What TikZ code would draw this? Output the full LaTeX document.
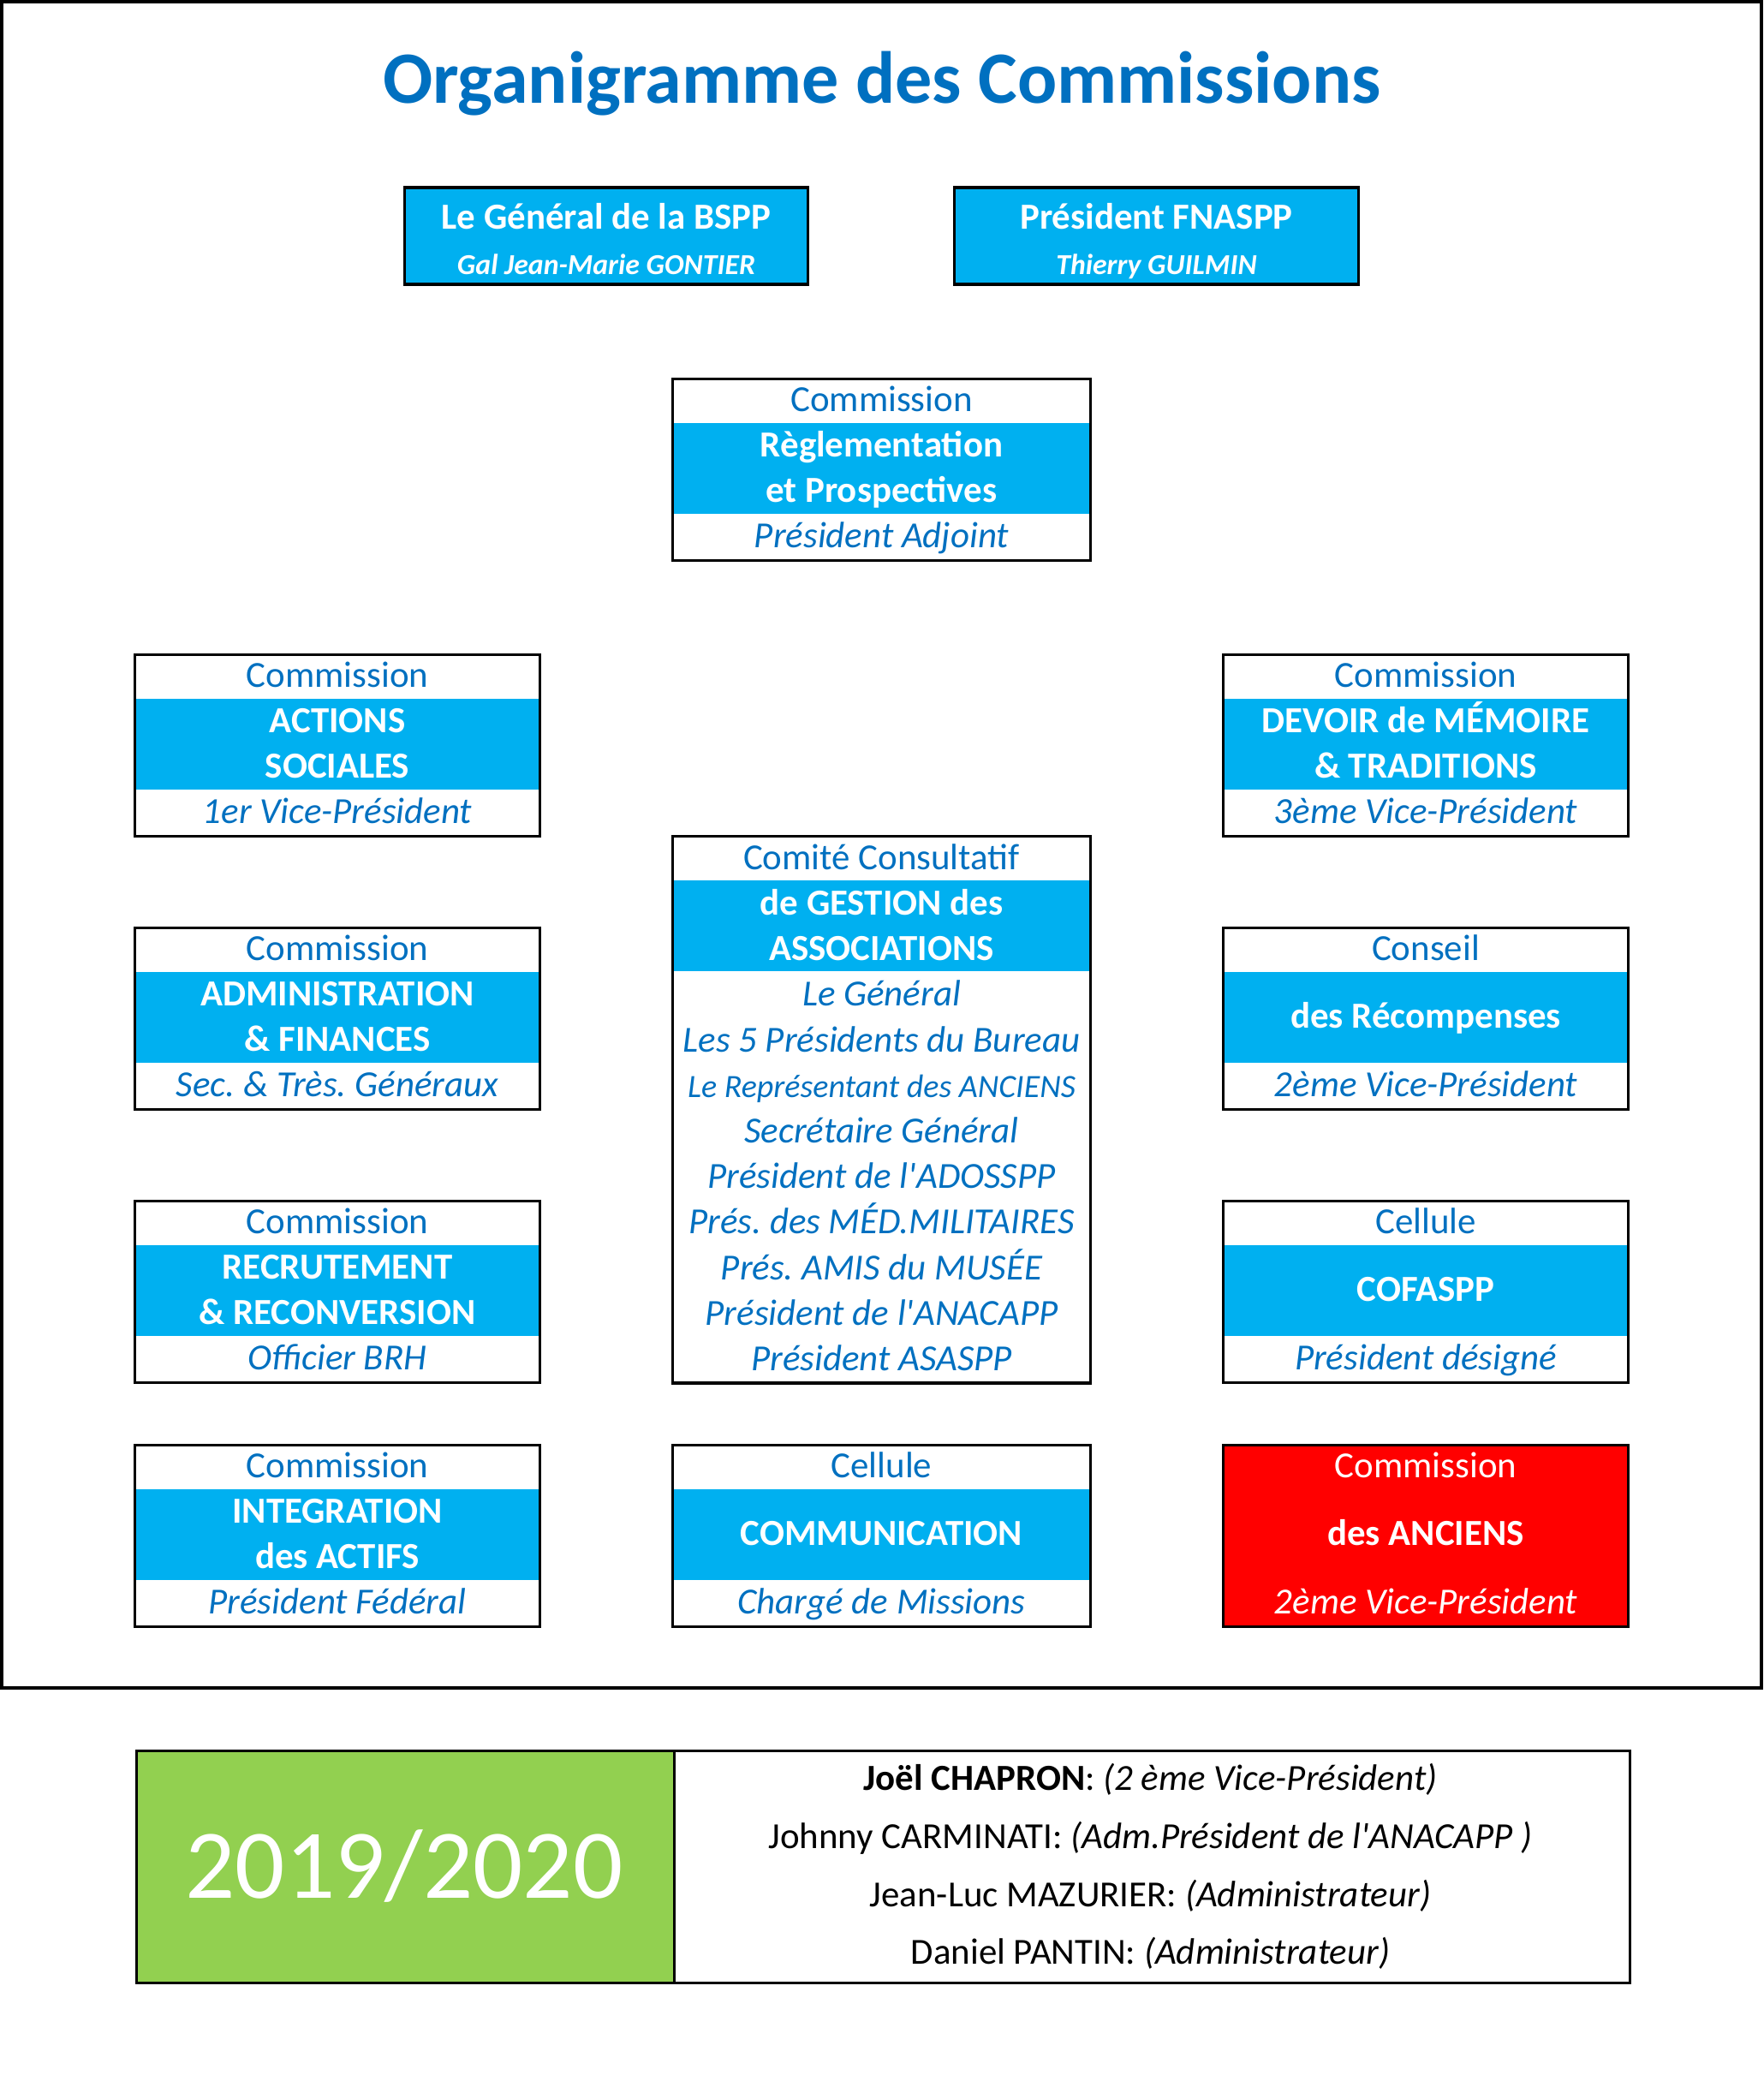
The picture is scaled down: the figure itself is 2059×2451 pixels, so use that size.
\documentclass[tikz,border=0pt]{standalone}
\usepackage{fontspec}
\setmainfont{Carlito}[Ligatures=TeXOff]
\frenchspacing
\definecolor{titleblue}{HTML}{0070C0}
\definecolor{bandblue}{HTML}{00B0F0}
\definecolor{ancred}{HTML}{FF0000}
\definecolor{yeargreen}{HTML}{92D050}
\tikzset{
    orgframe/.style = {draw, rectangle, line width=0.9pt,
        minimum height=2.12cm, inner sep=0pt},
    band/.style = {fill=bandblue, rectangle,
        minimum height=1.06cm, inner sep=0pt},
    txt/.style = {inner sep=0pt, text height=7.9pt, text depth=0pt,
        font=\fontsize{12.2}{14}\selectfont},
    headtxt/.style = {txt, text=titleblue},
    bandtxt/.style = {txt, text=white, font=\fontsize{12.2}{14}\selectfont\bfseries},
    foottxt/.style = {txt, text=titleblue, font=\fontsize{12.2}{14}\selectfont\itshape},
    subtxt/.style = {inner sep=0pt, text height=6.2pt, text depth=0pt, text=white,
        font=\fontsize{9.6}{11}\selectfont\bfseries\itshape},
    namestxt/.style = {txt, text=black}
}
% #1 name, #2 x, #3 top, #4 width (cm), #5 head, #6 #7 band lines, #8 foot
\newcommand{\orgboxtwo}[8]{%
    \node [band, minimum width=#4cm-0.9pt, anchor=north] (#1-band) at (#2,#3+52) {};
    \node [orgframe, minimum width=#4cm, anchor=north] (#1) at (#2,#3) {};
    \node [headtxt] (#1-head) at (#2,#3+26) {#5};
    \node [bandtxt] (#1-a) at (#2,#3+79) {#6};
    \node [bandtxt] (#1-b) at (#2,#3+132) {#7};
    \node [foottxt] (#1-foot) at (#2,#3+185) {#8};
}
\newcommand{\orgboxone}[7]{%
    \node [band, minimum width=#4cm-0.9pt, anchor=north] (#1-band) at (#2,#3+52) {};
    \node [orgframe, minimum width=#4cm, anchor=north] (#1) at (#2,#3) {};
    \node [headtxt] (#1-head) at (#2,#3+26) {#5};
    \node [bandtxt] (#1-a) at (#2,#3+105) {#6};
    \node [foottxt] (#1-foot) at (#2,#3+185) {#7};
}

\begin{document}
\begin{tikzpicture}[x=0.01cm, y=-0.01cm]
    \useasboundingbox (0,0) rectangle (2059,2451);
    \draw [line width=0.9pt] (2,2) rectangle (2057,1971);
    \node [anchor=base, text=titleblue, font=\fontsize{24.5}{28}\selectfont\bfseries]
        (title) at (1030,120.5) {Organigramme des Commissions};

    \node [orgframe, fill=bandblue, minimum width=4.70cm, minimum height=1.13cm] (bspp) at (708,275.5) {};
    \node [bandtxt] (bspp-t) at (708,254) {Le Général de la BSPP};
    \node [subtxt] (bspp-s) at (708,310) {Gal Jean-Marie GONTIER};
    \node [orgframe, fill=bandblue, minimum width=4.71cm, minimum height=1.13cm] (fnaspp) at (1350.5,275.5) {};
    \node [bandtxt] (fnaspp-t) at (1350.5,254) {Président FNASPP};
    \node [subtxt] (fnaspp-s) at (1350.5,310) {Thierry GUILMIN};

    \orgboxtwo{regl}{1029.5}{441}{4.87}{Commission}{Règlementation}{et Prospectives}{Président Adjoint}

    \orgboxtwo{soc}{394}{763}{4.72}{Commission}{ACTIONS}{SOCIALES}{1er Vice-Président}
    \orgboxtwo{adm}{394}{1082}{4.72}{Commission}{ADMINISTRATION}{\& FINANCES}{Sec. \& Très. Généraux}
    \orgboxtwo{rec}{394}{1401}{4.72}{Commission}{RECRUTEMENT}{\& RECONVERSION}{Officier BRH}
    \orgboxtwo{integ}{394}{1686}{4.72}{Commission}{INTEGRATION}{des ACTIFS}{Président Fédéral}

    \orgboxtwo{mem}{1665}{763}{4.72}{Commission}{DEVOIR de MÉMOIRE}{\& TRADITIONS}{3ème Vice-Président}
    \orgboxone{recomp}{1665}{1082}{4.72}{Conseil}{des Récompenses}{2ème Vice-Président}
    \orgboxone{cofaspp}{1665}{1401}{4.72}{Cellule}{COFASPP}{Président désigné}

    \orgboxone{com}{1029.5}{1686}{4.87}{Cellule}{COMMUNICATION}{Chargé de Missions}

    \node [orgframe, fill=ancred, minimum width=4.72cm, anchor=north] (anc) at (1665,1686) {};
    \node [headtxt, text=white] (anc-head) at (1665,1712) {Commission};
    \node [bandtxt] (anc-a) at (1665,1791) {des ANCIENS};
    \node [foottxt, text=white] (anc-foot) at (1665,1871) {2ème Vice-Président};

    \node [band, minimum width=4.87cm-0.9pt, anchor=north] (ccga-band) at (1029.5,1027) {};
    \node [orgframe, minimum width=4.87cm, minimum height=6.38cm, anchor=north] (ccga) at (1029.5,975) {};
    \node [headtxt] (ccga-head) at (1029.5,1001.6) {Comité Consultatif};
    \node [bandtxt] (ccga-a) at (1029.5,1055) {de GESTION des};
    \node [bandtxt] (ccga-b) at (1029.5,1108) {ASSOCIATIONS};
    \foreach \i/\who in {0/{Le Général}, 1/{Les 5 Présidents du Bureau},
        2/{\fontsize{10.8}{12}\selectfont Le Représentant des ANCIENS},
        3/{Secrétaire Général}, 4/{Président de l'ADOSSPP},
        5/{Prés. des MÉD.MILITAIRES}, 6/{Prés. AMIS du MUSÉE},
        7/{Président de l'ANACAPP}, 8/{Président ASASPP}}
        \node [foottxt] (ccga-\i) at (1029.5,1161+53.2*\i) {\who};

    \node [fill=yeargreen, minimum width=6.28cm, minimum height=2.71cm, inner sep=0pt, anchor=north west] (year) at (158,2043) {};
    \node [draw, line width=0.9pt, minimum width=17.43cm, minimum height=2.71cm, inner sep=0pt, anchor=north west] (panel) at (158,2043) {};
    \draw [line width=0.9pt] (year.north east) -- (year.south east);
    \node [inner sep=0pt, text height=21pt, text depth=0pt, text=white,
        font=\fontsize{32.7}{36}\selectfont] (year-t) at (472,2180) {2019/2020};
    \node [namestxt] (n1) at (1343.5,2077) {\textbf{Joël CHAPRON}: \textit{(2 ème Vice-Président)}};
    \node [namestxt] (n2) at (1343.5,2145) {Johnny CARMINATI: \textit{(Adm.Président de l'ANACAPP )}};
    \node [namestxt] (n3) at (1343.5,2213) {Jean-Luc MAZURIER: \textit{(Administrateur)}};
    \node [namestxt] (n4) at (1343.5,2280) {Daniel PANTIN: \textit{(Administrateur)}};
\end{tikzpicture}
\end{document}
